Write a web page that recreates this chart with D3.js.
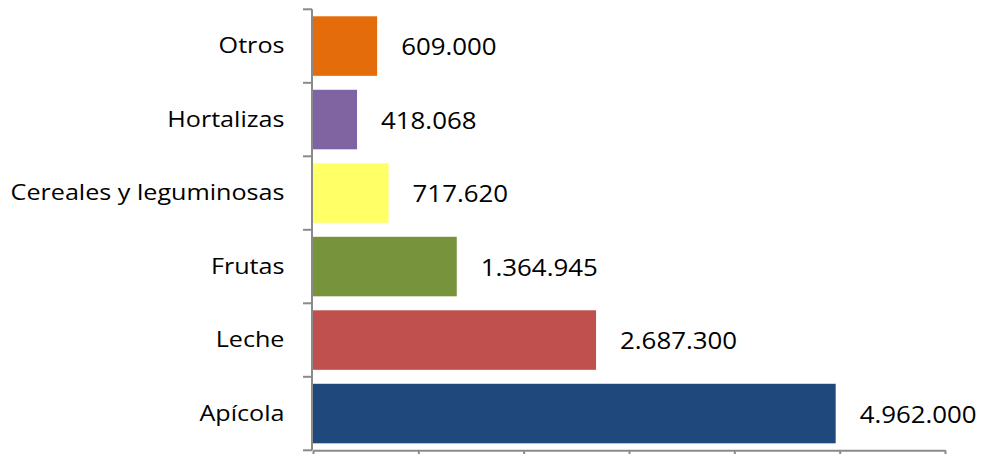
<!DOCTYPE html>
<html>
<head>
<meta charset="utf-8">
<script src="https://cdn.jsdelivr.net/npm/d3@7"></script>
<style>
  html, body { margin: 0; padding: 0; background: #fff; }
  svg { display: block; }
  text { font-family: "Open Sans", "Noto Sans", sans-serif; fill: #000; }
</style>
</head>
<body>
<svg id="chart" width="982" height="454"></svg>
<script>
// Production value by sector, top to bottom
const categories = ["Otros", "Hortalizas", "Cereales y leguminosas", "Frutas", "Leche", "Apícola"];
const values = [609000, 418068, 717620, 1364945, 2687300, 4962000];
const colors = ["#E46C0A", "#8064A2", "#FFFF66", "#77933C", "#C0504D", "#1F497D"];
const xTicks = [0, 1000000, 2000000, 3000000, 4000000, 5000000, 6000000];

const data = categories.map((c, i) => ({ category: c, value: values[i], color: colors[i] }));

const svg = d3.select("#chart");
const axisColor = "#8a8a8a";

const x = d3.scaleLinear().domain([0, 6000000]).range([313, 945]);
const y = d3.scaleBand()
  .domain(categories)
  .range([9.3, 450.3])
  .paddingInner(0.19)
  .paddingOuter(0.095);

const es = d3.formatLocale({ decimal: ",", thousands: ".", grouping: [3], currency: ["", ""] });
const fmt = es.format(",d");

// Bars
svg.append("g")
  .selectAll("rect")
  .data(data)
  .join("rect")
  .attr("x", x(0))
  .attr("y", d => y(d.category))
  .attr("width", d => x(d.value) - x(0))
  .attr("height", y.bandwidth())
  .attr("fill", d => d.color);

// Category axis: line plus ticks at band boundaries
const step = y.step();
const boundaries = categories.map(c => y(c) - step * y.paddingInner() / 2)
  .concat([y(categories[categories.length - 1]) + y.bandwidth() + step * y.paddingInner() / 2]);

const yAxis = svg.append("g");
yAxis.append("line")
  .attr("x1", x(0) - 1).attr("x2", x(0) - 1)
  .attr("y1", boundaries[0]).attr("y2", boundaries[boundaries.length - 1])
  .attr("stroke", axisColor).attr("stroke-width", 2);
yAxis.selectAll("line.tick")
  .data(boundaries)
  .join("line")
  .attr("class", "tick")
  .attr("x1", x(0) - 10).attr("x2", x(0) - 1)
  .attr("y1", d => d).attr("y2", d => d)
  .attr("stroke", axisColor).attr("stroke-width", 2);

// Value axis along the bottom
const xAxis = svg.append("g")
  .attr("transform", `translate(0,${boundaries[boundaries.length - 1]})`)
  .call(d3.axisBottom(x).tickValues(xTicks).tickSize(8).tickSizeOuter(0).tickFormat(""));
xAxis.selectAll("path, line").attr("stroke", axisColor).attr("stroke-width", 2);

// Category labels
svg.append("g")
  .selectAll("text")
  .data(data)
  .join("text")
  .attr("text-anchor", "end")
  .attr("font-size", 21.5)
  .attr("transform", d => `translate(284.5,${y(d.category) + y.bandwidth() / 2 + 7}) scale(1.17,1)`)
  .text(d => d.category);

// Value labels
svg.append("g")
  .selectAll("text")
  .data(data)
  .join("text")
  .attr("font-size", 23.5)
  .attr("transform", d => `translate(${x(d.value) + 24},${y(d.category) + y.bandwidth() / 2 + 9}) scale(1.1,1)`)
  .text(d => fmt(d.value));
</script>
</body>
</html>
